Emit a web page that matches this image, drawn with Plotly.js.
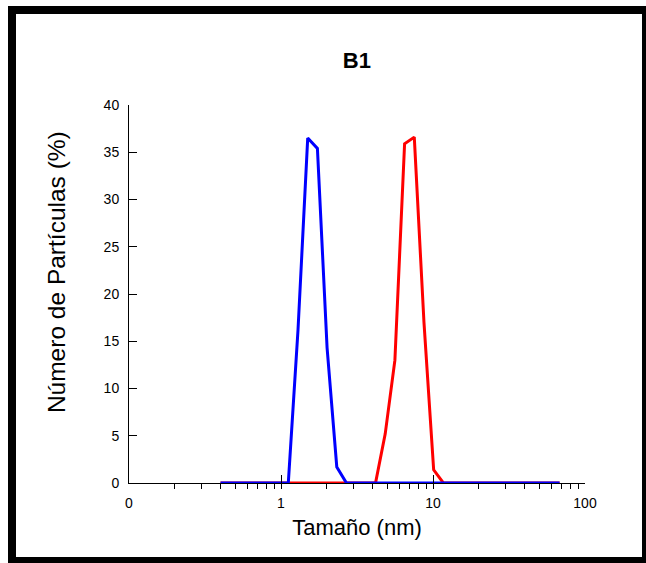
<!DOCTYPE html>
<html>
<head>
<meta charset="utf-8">
<script src="https://cdn.plot.ly/plotly-3.0.1.min.js"></script>
<style>
  html, body { margin: 0; padding: 0; background: #fff; }
  #wrap { position: relative; width: 646px; height: 563px; overflow: hidden; }
  #chart { position: absolute; left: 0; top: 0; width: 646px; height: 563px; }
  #frame { position: absolute; left: 8px; top: 6px; width: 626px; height: 543px;
           border: 8px solid #000; pointer-events: none; }
</style>
</head>
<body>
<div id="wrap">
  <div id="chart"></div>
  <div id="frame"></div>
</div>
<script>
// Particle size bins (nm)
const sizes = [0.4, 0.4632, 0.5365, 0.6213, 0.7195, 0.8332, 0.9649, 1.117, 1.294, 1.499,
               1.736, 2.01, 2.328, 2.696, 3.122, 3.615, 4.187, 4.849, 5.615, 6.503,
               7.531, 8.721, 10.1, 11.7, 13.54, 15.69, 18.17, 21.04, 24.36, 28.21,
               32.67, 37.84, 43.82, 50.75, 58.77, 68.06];
// Number distribution (%) – blue series
const blueValues = [0, 0, 0, 0, 0, 0, 0, 0, 16.2, 36.5,
                    35.4, 14.3, 1.7, 0, 0, 0, 0, 0, 0, 0,
                    0, 0, 0, 0, 0, 0, 0, 0, 0, 0,
                    0, 0, 0, 0, 0, 0];
// Number distribution (%) – red series
const redValues = [0, 0, 0, 0, 0, 0, 0, 0, 0, 0,
                   0, 0, 0, 0, 0, 0, 0, 5.2, 13.0, 35.9,
                   36.6, 17.0, 1.4, 0, 0, 0, 0, 0, 0, 0,
                   0, 0, 0, 0, 0, 0];
const xTickVals = [0.1, 1, 10, 100];
const xTickText = ['0', '1', '10', '100'];
const yTickVals = [0, 5, 10, 15, 20, 25, 30, 35, 40];
const chartTitle = 'B1';
const xTitle = 'Tamaño (nm)';
const yTitle = 'Número de Partículas (%)';

const traces = [
  { x: sizes, y: redValues, type: 'scatter', mode: 'lines',
    line: { color: '#ff0000', width: 3 }, hoverinfo: 'skip' },
  { x: sizes, y: blueValues, type: 'scatter', mode: 'lines',
    line: { color: '#0000ff', width: 3 }, hoverinfo: 'skip' }
];

const layout = {
  width: 646, height: 563,
  margin: { l: 129, r: 61, t: 105, b: 80 },
  paper_bgcolor: '#fff', plot_bgcolor: '#fff',
  showlegend: false,
  font: { family: 'Liberation Sans, Arial, sans-serif', color: '#000' },
  title: { text: '<b>' + chartTitle + '</b>', font: { size: 22, color: '#000' },
           x: 0.5525, xanchor: 'center', y: 0.893, yanchor: 'middle' },
  xaxis: {
    type: 'log', range: [-1, 2],
    showgrid: false, zeroline: false,
    showline: true, linecolor: '#000', linewidth: 1,
    tickmode: 'array', tickvals: xTickVals, ticktext: xTickText,
    ticks: 'inside', ticklen: 8, tickcolor: '#000', tickwidth: 1,
    tickfont: { size: 14, color: '#000' },
    ticklabelstandoff: 7,
    minor: { ticks: 'outside', ticklen: 5, tickcolor: '#000', tickwidth: 1, dtick: 'D1', showgrid: false },
    title: { text: xTitle, font: { size: 22, color: '#000' }, standoff: 9 }
  },
  yaxis: {
    range: [0, 40],
    showgrid: false, zeroline: false,
    showline: true, linecolor: '#000', linewidth: 1,
    tickmode: 'array', tickvals: yTickVals,
    ticks: 'inside', ticklen: 8, tickcolor: '#000', tickwidth: 1,
    tickfont: { size: 14, color: '#000' },
    ticklabelstandoff: 6
  },
  annotations: [{
    text: yTitle, textangle: -90, showarrow: false,
    xref: 'paper', yref: 'paper', x: -0.16, y: 0.558,
    xanchor: 'center', yanchor: 'middle',
    font: { size: 24.5, color: '#000' }
  }]
};

Plotly.newPlot('chart', traces, layout, { staticPlot: true, displayModeBar: false });
</script>
</body>
</html>
